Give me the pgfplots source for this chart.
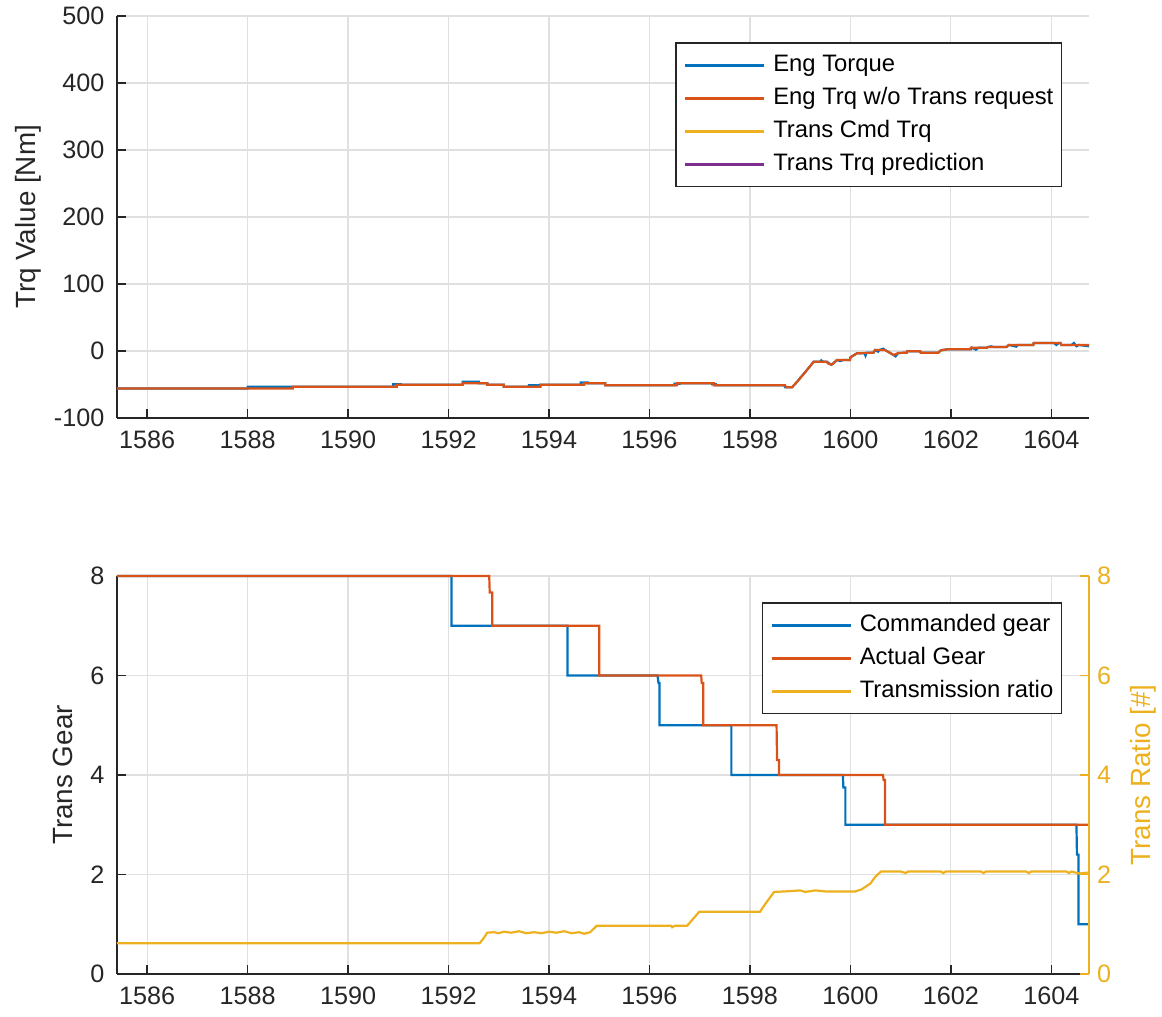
\documentclass[border=0pt]{standalone}
\usepackage{fontspec}
\setmainfont{Liberation Sans}
\usepackage{pgfplots}
\pgfplotsset{compat=1.18}
\definecolor{mblue}{rgb}{0,0.447,0.741}
\definecolor{morange}{rgb}{0.85,0.325,0.098}
\definecolor{myellow}{rgb}{0.929,0.694,0.125}
\definecolor{mpurple}{rgb}{0.494,0.184,0.556}
\definecolor{axgray}{rgb}{0.15,0.15,0.15}
\definecolor{gridgray}{rgb}{0.88,0.88,0.88}
\pgfplotsset{
  mbase/.style={
    scale only axis, width=486pt,
    xmin=1585.4, xmax=1604.75,
    /pgf/number format/assume math mode=true,
    /pgf/number format/1000 sep={},
    tick label style={font=\fontsize{12.6}{14}\selectfont, color=axgray},
    major tick length=4.5pt,
    clip=false,
  },
  mstyle/.style={
    mbase,
    axis lines*=left,
    tick align=inside,
    axis line style={color=axgray, line width=0.9pt},
    tick style={color=axgray, line width=0.8pt},
    xtick={1586,1588,...,1604},
    grid=major,
    major grid style={color=gridgray, line width=0.6pt},
    xticklabel style={yshift=-3pt},
    yticklabel style={xshift=-2.8pt},
    legend style={at={(rel axis cs:1,1)}, anchor=north east,
      xshift=-13.5pt, yshift=-13.2pt, draw=axgray, line width=0.7pt,
      font=\fontsize{11.9}{14}\selectfont, text=black,
      inner xsep=4pt, inner ysep=5.5pt,
      nodes={inner sep=0pt, text height=8.7pt, text depth=2.6pt},
      row sep=5.2pt, column sep=4pt, legend cell align=left},
    legend image code/.code={\draw[##1, line width=1.1pt] (0pt,0pt) -- (39.5pt,0pt);},
  },
}
\begin{document}
\begin{tikzpicture}
\path[use as bounding box] (-58.5pt,-299.5pt) rectangle (522.5pt,209pt);
% ---------------- top axis
\begin{axis}[mstyle, height=201pt,
  ymin=-100, ymax=500, ytick={-100,0,...,500},
  every axis y label/.style={at={(axis description cs:-0.0916,0.5)}, rotate=90, anchor=center,
     font=\fontsize{13.9}{16}\selectfont, color=axgray},
  ylabel={Trq Value [Nm]},
]
\addplot[mblue, line width=1.1pt] coordinates {
(1585.4,-56) (1588.0,-56) (1588.0,-53.5) (1590.9,-53.5) (1590.9,-49.5) (1591.05,-49.5) (1591.05,-50.5) (1592.28,-50.5) (1592.28,-46) (1592.6,-46) (1592.6,-48) (1592.77,-48) (1592.77,-50.5) (1593.1,-50.5) (1593.1,-53.5) (1593.6,-53.5) (1593.6,-51) (1593.83,-51) (1593.83,-50.5) (1594.63,-50.5) (1594.63,-47) (1594.77,-47) (1594.77,-48) (1595.12,-48) (1595.12,-51) (1596.5,-51) (1596.5,-49) (1596.6,-49) (1596.6,-48) (1597.25,-48) (1597.25,-49.5) (1597.32,-49.5) (1597.32,-51) (1598.68,-51) (1598.7,-54) (1598.84,-54) (1598.95,-45) (1599.0,-40) (1599.05,-36) (1599.15,-27) (1599.27,-16) (1599.4,-16) (1599.42,-14) (1599.46,-16) (1599.53,-16) (1599.62,-20.5) (1599.66,-18.5) (1599.73,-13.5) (1599.8,-15) (1599.85,-13.5) (1599.99,-13.5) (1600.0,-9.5) (1600.13,-3.5) (1600.28,-3.5) (1600.3,-7) (1600.32,-2.5) (1600.46,-2.5) (1600.49,1.5) (1600.55,-1) (1600.58,1.5) (1600.65,3.5) (1600.69,1.5) (1600.86,-6) (1600.9,-8) (1600.95,-3) (1601.12,-2.5) (1601.13,-0.5) (1601.39,-0.5) (1601.4,-2.5) (1601.75,-2.5) (1601.8,1) (1601.92,2.5) (1602.4,2.5) (1602.42,5) (1602.5,2) (1602.55,5) (1602.72,5) (1602.74,6) (1602.8,7) (1602.85,6) (1603.11,6) (1603.15,9) (1603.3,6.5) (1603.33,9) (1603.64,9) (1603.65,12) (1604.05,12) (1604.1,9) (1604.15,12) (1604.18,12) (1604.2,9) (1604.4,9) (1604.45,12) (1604.5,7) (1604.55,9) (1604.75,7)
};
\addlegendentry{Eng Torque}
\addplot[morange, line width=1.1pt] coordinates {
(1585.4,-56) (1588.9,-56) (1588.9,-53.5) (1590.97,-53.5) (1590.97,-50.5) (1592.28,-50.5) (1592.28,-48) (1592.77,-48) (1592.77,-50.5) (1593.1,-50.5) (1593.1,-53.5) (1593.83,-53.5) (1593.83,-50.5) (1594.7,-50.5) (1594.7,-48) (1595.12,-48) (1595.12,-51) (1596.55,-51) (1596.55,-48) (1597.28,-48) (1597.28,-51) (1598.70,-51) (1598.72,-54) (1598.84,-54) (1598.95,-45) (1599.05,-36) (1599.15,-27) (1599.27,-16) (1599.53,-16) (1599.55,-18.5) (1599.62,-20.5) (1599.66,-18.5) (1599.73,-13.5) (1599.99,-13.5) (1600.0,-9.5) (1600.13,-3.5) (1600.46,-2.5) (1600.49,1.5) (1600.69,1.5) (1600.86,-6) (1600.95,-3) (1601.12,-2.5) (1601.13,-0.5) (1601.39,-0.5) (1601.4,-2.5) (1601.75,-2.5) (1601.8,1) (1601.92,2.5) (1602.38,2.5) (1602.4,5) (1602.72,5) (1602.73,6) (1603.11,6) (1603.15,9) (1603.64,9) (1603.65,12) (1604.18,12) (1604.2,9) (1604.75,9)
};
\addlegendentry{Eng Trq w/o Trans request}
\addlegendimage{myellow, line width=1.1pt}
\addlegendentry{Trans Cmd Trq}
\addlegendimage{mpurple, line width=1.1pt}
\addlegendentry{Trans Trq prediction}
\end{axis}
% ---------------- bottom axis (left)
\begin{axis}[mstyle, height=199pt, at={(0pt,-278pt)},
  ymin=0, ymax=8, ytick={0,2,...,8},
  every axis y label/.style={at={(axis description cs:-0.0556,0.5)}, rotate=90, anchor=center,
     font=\fontsize{13.9}{16}\selectfont, color=axgray},
  ylabel={Trans Gear},
]
\addplot[mblue, line width=1.1pt] coordinates {
(1585.4,8) (1592.06,8) (1592.06,7) (1594.37,7) (1594.37,6) (1596.16,6) (1596.18,5.85) (1596.2,5.85) (1596.2,5) (1597.63,5) (1597.63,4) (1599.85,4) (1599.86,3.75) (1599.9,3.75) (1599.9,3) (1604.5,3) (1604.51,2.4) (1604.54,2.4) (1604.54,1) (1604.75,1)
};
\addlegendentry{Commanded gear}
\addplot[morange, line width=1.1pt] coordinates {
(1585.4,8) (1592.81,8) (1592.82,7.67) (1592.87,7.67) (1592.87,7) (1595.0,7) (1595.0,6) (1597.03,6) (1597.04,5.85) (1597.07,5.85) (1597.07,5) (1598.53,5) (1598.54,4.3) (1598.58,4.3) (1598.58,4) (1600.65,4) (1600.66,3.9) (1600.69,3.9) (1600.69,3) (1604.75,3)
};
\addlegendentry{Actual Gear}
\addlegendimage{myellow, line width=1.1pt}
\addlegendentry{Transmission ratio}
\end{axis}
% ---------------- bottom axis (right)
\begin{axis}[mbase, height=199pt, at={(0pt,-278pt)},
  axis y line*=right, axis x line=none,
  tick align=inside,
  ymin=0, ymax=8, ytick={0,2,...,8},
  axis line style={color=myellow, line width=0.9pt},
  tick style={color=myellow, line width=0.8pt},
  yticklabel style={color=myellow, xshift=0.5pt},
  every axis y label/.style={at={(axis description cs:1.0556,0.5)}, rotate=90, anchor=center,
     font=\fontsize{13.9}{16}\selectfont, color=myellow},
  ylabel={Trans Ratio [\#]},
]
\addplot[myellow, line width=1.1pt] coordinates {
(1585.4,0.62) (1592.62,0.62) (1592.7,0.72) (1592.77,0.83) (1592.9,0.84) (1593.0,0.82) (1593.1,0.85) (1593.25,0.83) (1593.4,0.86) (1593.55,0.82) (1593.7,0.84) (1593.85,0.82) (1594.0,0.85) (1594.15,0.83) (1594.3,0.86) (1594.45,0.82) (1594.6,0.84) (1594.7,0.81) (1594.82,0.84) (1594.95,0.97) (1596.43,0.97) (1596.45,0.94) (1596.5,0.97) (1596.75,0.97) (1596.99,1.25) (1598.2,1.25) (1598.3,1.4) (1598.48,1.65) (1598.7,1.66) (1599.0,1.68) (1599.1,1.65) (1599.3,1.68) (1599.5,1.66) (1599.8,1.66) (1600.1,1.66) (1600.22,1.7) (1600.4,1.82) (1600.5,1.96) (1600.61,2.06) (1601.0,2.06) (1601.1,2.03) (1601.15,2.06) (1601.8,2.06) (1601.85,2.03) (1601.9,2.06) (1602.6,2.06) (1602.65,2.03) (1602.7,2.06) (1603.5,2.06) (1603.55,2.03) (1603.6,2.06) (1604.3,2.06) (1604.35,2.03) (1604.4,2.06) (1604.55,2.02) (1604.75,2.04)
};
\end{axis}
\end{tikzpicture}
\end{document}
